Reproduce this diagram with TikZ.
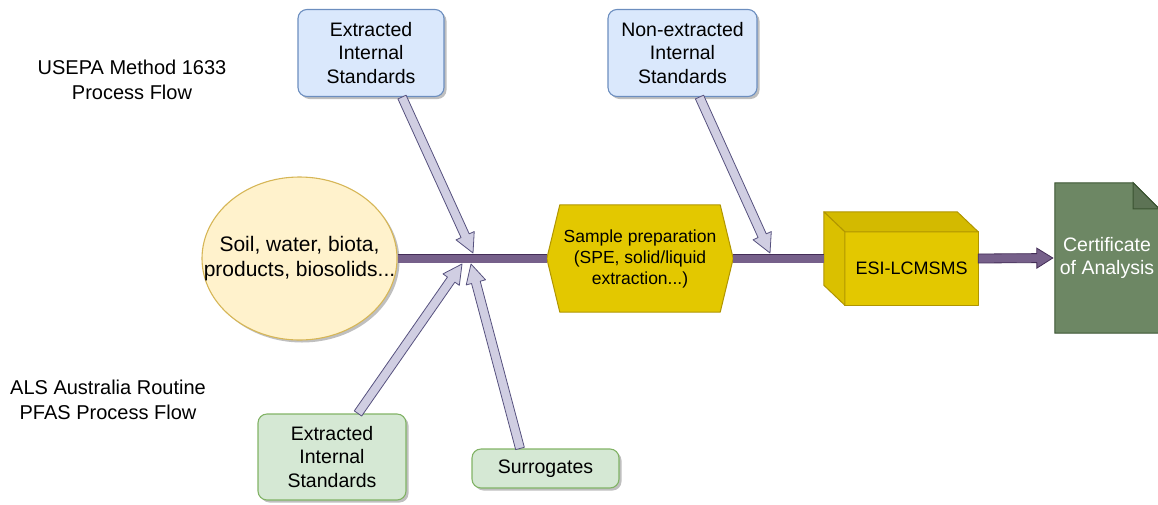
\documentclass[tikz,border=0pt]{standalone}
\usepackage{fontspec}
\setmainfont{Liberation Sans}
\usetikzlibrary{calc,shapes.geometric,shadows,backgrounds}

\definecolor{bluefill}{HTML}{DAE8FC}
\definecolor{blueline}{HTML}{6C8EBF}
\definecolor{greenfill}{HTML}{D5E8D4}
\definecolor{greenline}{HTML}{82B366}
\definecolor{samplefill}{HTML}{FFF2CC}
\definecolor{sampleline}{HTML}{D6B656}
\definecolor{goldfill}{HTML}{E3C800}
\definecolor{goldline}{HTML}{B09500}
\definecolor{flowfill}{HTML}{76608A}
\definecolor{flowline}{HTML}{432D57}
\definecolor{feedfill}{HTML}{D0CEE2}
\definecolor{feedline}{HTML}{56517E}
\definecolor{docfill}{HTML}{6D8764}
\definecolor{docline}{HTML}{3A5431}

% fat arrow: [style]{from}{to}{half shaft}{half head}{head length}
\newcommand\fatarrow[6][]{%
  \coordinate (fah) at ($(#3)!#6!(#2)$);
  \filldraw[#1] ($(#2)!#4!90:(#3)$) -- ($(fah)!#4!-90:(#2)$) -- ($(fah)!#5!-90:(#2)$)
    -- (#3) -- ($(fah)!#5!90:(#2)$) -- ($(fah)!#4!90:(#2)$) -- ($(#2)!#4!-90:(#3)$) -- cycle;}

\begin{document}
\begin{tikzpicture}[x=1pt,y=-1pt,
			txt/.style={align=center,inner sep=0pt},
			title/.style={txt,font=\fontsize{20}{25}\selectfont},
			shade/.style={drop shadow={shadow xshift=2.5pt,shadow yshift=-2.5pt,opacity=.25,fill=black}},
			bluebox/.style={txt,shade,draw=blueline,fill=bluefill,line width=1.1pt,rounded corners=9pt,
				font=\fontsize{19.5}{23.5}\selectfont},
			greenbox/.style={txt,shade,draw=greenline,fill=greenfill,line width=1.1pt,rounded corners=9pt,
				font=\fontsize{19.5}{23.5}\selectfont},
			samplenode/.style={shade,ellipse,inner sep=0pt,draw=sampleline,fill=samplefill,line width=1.1pt},
			goldface/.style={draw=goldline,fill=goldfill,line width=1pt,line join=round},
			mainline/.style={draw=flowline,line width=.8pt,double=flowfill,double distance=8pt},
			mainarrow/.style={draw=flowline,fill=flowfill,line width=.8pt},
			feedarrow/.style={draw=feedline,fill=feedfill,line width=.8pt,line join=round}
		]
		\useasboundingbox (0,0) rectangle (1158,504);

		\node [title] (usepa) at (132,80) {USEPA Method 1633\\Process Flow};
		\node [title] (als) at (108,400) {ALS Australia Routine\\PFAS Process Flow};

		\node [bluebox,minimum width=146pt,minimum height=87pt] (topext) at (371,53) {Extracted\\Internal\\Standards};
		\node [bluebox,minimum width=149pt,minimum height=87pt] (topnon) at (682.5,53) {Non-extracted\\Internal\\Standards};
		\node [greenbox,minimum width=148pt,minimum height=86pt] (botext) at (332,457) {Extracted\\Internal\\Standards};
		\node [greenbox,minimum width=147pt,minimum height=39pt] (surr) at (545.5,468.5) {Surrogates};

		\node [samplenode,minimum width=195pt,minimum height=163pt] (sample) at (299.5,258.5) {};
		\node [txt,font=\fontsize{21}{25}\selectfont] (sampletxt) at (sample.center) {Soil, water, biota,\\products, biosolids...};
		\node [txt,minimum width=186pt,minimum height=107pt,font=\fontsize{17.5}{21}\selectfont] (prep) at (640,258.5)
			{Sample preparation\\(SPE, solid/liquid\\extraction...)};
		\node [txt,minimum width=133pt,minimum height=73pt,font=\fontsize{18}{22}\selectfont] (lcms) at (911.5,268.5) {ESI-LCMSMS};
		\node [txt,minimum width=104pt,minimum height=150pt,text=white,font=\fontsize{19.5}{23.5}\selectfont] (coa) at (1107,258)
			{Certificate\\of Analysis};

		\begin{scope}[on background layer]
			% hexagon
			\filldraw[goldface] ([shift={(13,0)}]prep.north west) -- ([shift={(-13,0)}]prep.north east) -- (prep.east)
				-- ([shift={(-13,0)}]prep.south east) -- ([shift={(13,0)}]prep.south west) -- (prep.west) -- cycle;
			% cube
			\filldraw[goldface] (lcms.north west) rectangle (lcms.south east);
			\filldraw[goldface,fill=goldfill!93!black] (lcms.north west) -- ([shift={(-21,-20)}]lcms.north west)
				-- ([shift={(-21,-20)}]lcms.north east) -- (lcms.north east) -- cycle;
			\filldraw[goldface,fill=goldfill!96!black] (lcms.north west) -- ([shift={(-21,-20)}]lcms.north west)
				-- ([shift={(-21,-20)}]lcms.south west) -- (lcms.south west) -- cycle;
			% document
			\filldraw[draw=docline,fill=docfill,line width=1pt] (coa.north west) -- ([shift={(-26,0)}]coa.north east)
				-- ([shift={(0,26)}]coa.north east) -- (coa.south east) -- (coa.south west) -- cycle;
			\filldraw[draw=docline,fill=docfill!85!black,line width=1pt] ([shift={(-26,0)}]coa.north east)
				-- ([shift={(-26,26)}]coa.north east) -- ([shift={(0,26)}]coa.north east) -- cycle;
		\end{scope}

		\coordinate (lcmsin) at ([shift={(-21,-10)}]lcms.west);
		\coordinate (lcmsout) at ([shift={(0,-10)}]lcms.east);
		\coordinate (coatip) at ([shift={(-2,0)}]coa.west);

		\draw[mainline] (sample.east) -- (prep.west);
		\draw[mainline] (prep.east) -- (lcmsin);
		\fatarrow[mainarrow]{lcmsout}{coatip}{4.5pt}{10pt}{16pt}

		\coordinate (srcA) at ([shift={(31,0)}]topext.south);
		\coordinate (srcB) at ([shift={(17,0)}]topnon.south);
		\coordinate (srcC) at ([shift={(26,0)}]botext.north);
		\coordinate (srcD) at ([shift={(-25.5,0)}]surr.north);
		\coordinate (tipA) at (473,253);
		\coordinate (tipB) at (770,253);
		\coordinate (tipC) at (462,264);
		\coordinate (tipD) at (471,264);

		\fatarrow[feedarrow]{srcA}{tipA}{4.5pt}{10pt}{19pt}
		\fatarrow[feedarrow]{srcB}{tipB}{4.5pt}{10pt}{19pt}
		\fatarrow[feedarrow]{srcC}{tipC}{4.5pt}{10pt}{19pt}
		\fatarrow[feedarrow]{srcD}{tipD}{4.5pt}{10pt}{19pt}
	\end{tikzpicture}
\end{document}
